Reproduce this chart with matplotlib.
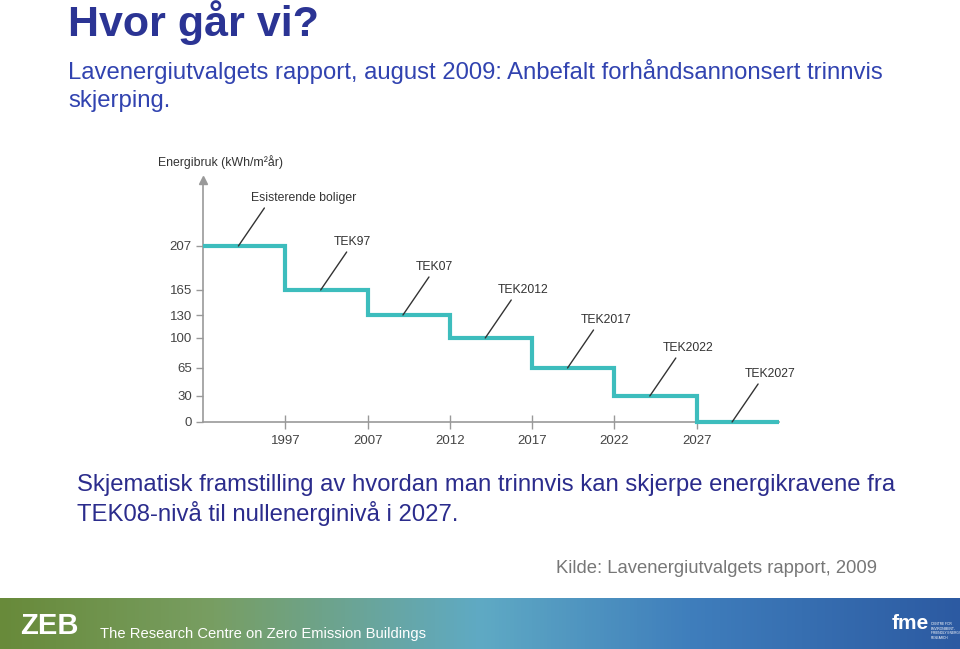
import matplotlib.pyplot as plt
import numpy as np
from matplotlib.colors import LinearSegmentedColormap

# Data
years = ['1997', '2007', '2012', '2017', '2022', '2027']
levels = [207, 165, 130, 100, 65, 30, 0]
step_labels = ['Esisterende boliger', 'TEK97', 'TEK07', 'TEK2012', 'TEK2017', 'TEK2022', 'TEK2027']
y_ticks = [0, 30, 65, 100, 130, 165, 207]

# the original chart uses a schematic (uneven) energy axis
y_knots = [0, 30, 65, 100, 130, 165, 207, 290]
y_spots = [0, 26, 54, 84, 107, 132, 176, 242]

def fwd(v):
    return np.interp(v, y_knots, y_spots)

def inv(v):
    return np.interp(v, y_spots, y_knots)

ARIAL = ['Liberation Sans', 'DejaVu Sans']
W, H = 960, 649

fig = plt.figure(figsize=(9.6, 6.49), dpi=100)

# ---- slide texts ----
fig.text(68 / W, 1 - 36 / H, 'Hvor går vi?', family=ARIAL, fontsize=31, fontweight='bold',
         color='#2B3494', va='baseline')
fig.text(68 / W, 1 - 79 / H, 'Lavenergiutvalgets rapport, august 2009: Anbefalt forhåndsannonsert trinnvis',
         family=ARIAL, fontsize=17.2, color='#3143B0', va='baseline')
fig.text(68 / W, 1 - 107 / H, 'skjerping.', family=ARIAL, fontsize=17.2, color='#3143B0', va='baseline')
fig.text(77 / W, 1 - 491 / H, 'Skjematisk framstilling av hvordan man trinnvis kan skjerpe energikravene fra',
         family=ARIAL, fontsize=17.2, color='#2B2C8C', va='baseline')
fig.text(77 / W, 1 - 521 / H, 'TEK08-nivå til nullenerginivå i 2027.', family=ARIAL, fontsize=17.2,
         color='#2B2C8C', va='baseline')
fig.text(877 / W, 1 - 573 / H, 'Kilde: Lavenergiutvalgets rapport, 2009', family=ARIAL, fontsize=13.3,
         color='#777777', ha='right', va='baseline')

# ---- chart ----
ax = fig.add_axes([203 / W, 1 - 422 / H, (779 - 203) / W, (422 - 180) / H])
ax.set_yscale('function', functions=(fwd, inv))
ax.set_ylim(0, 290)
ax.set_xlim(0, len(levels))

xs = np.arange(len(levels) + 1)
ax.stairs(levels, xs, color='#3DBDBD', lw=3, baseline=None, zorder=3, clip_on=False)

ax.set_xticks(np.arange(1, len(years) + 1))
ax.set_xticklabels(years, family=ARIAL, fontsize=9.5, color='#444444')
ax.set_yticks(y_ticks)
ax.set_yticklabels([str(t) for t in y_ticks], family=ARIAL, fontsize=9.5, color='#444444')
ax.tick_params(axis='x', direction='inout', length=10, width=1, color='#999999', pad=4)
ax.tick_params(axis='y', direction='out', length=5, width=1, color='#999999', pad=3)
for side in ['top', 'right']:
    ax.spines[side].set_visible(False)
for side in ['left', 'bottom']:
    ax.spines[side].set_color('#999999')
    ax.spines[side].set_linewidth(1.2)
ax.plot([0], [1], marker='^', color='#999999', markersize=6, transform=ax.transAxes, clip_on=False)
ax.patch.set_alpha(0)

for i, (lab, lev) in enumerate(zip(step_labels, levels)):
    ax.annotate('', xy=(i + 0.43, lev), xytext=(26, 38), textcoords='offset pixels',
                arrowprops=dict(arrowstyle='-', color='#333333', lw=1, shrinkA=0, shrinkB=0))
    ax.annotate(lab, xy=(i + 0.43, lev), xytext=(13, 42), textcoords='offset pixels',
                ha='left', va='bottom', family=ARIAL, fontsize=8.8, color='#333333')

fig.text(158 / W, 1 - 162 / H, 'Energibruk (kWh/m²år)', family=ARIAL, fontsize=8.8,
         color='#333333', va='center')

# ---- footer band ----
band = fig.add_axes([0, 0, 1, 51 / H])
cmap = LinearSegmentedColormap.from_list('zeb', [
    (0.0, '#688A3A'), (0.22, '#789E62'), (0.5, '#5FAAC4'), (0.72, '#3F7EBC'), (1.0, '#2C5AA2')])
band.imshow(np.linspace(0, 1, 256)[None, :], aspect='auto', cmap=cmap, extent=[0, 1, 0, 1])
band.set_axis_off()
band.text(20 / W, 0.45, 'ZEB', transform=band.transAxes, family=ARIAL, fontsize=21,
          fontweight='bold', color='white', va='center')
band.text(100 / W, 0.3, 'The Research Centre on Zero Emission Buildings', transform=band.transAxes,
          family=ARIAL, fontsize=10.6, color='white', va='center')
band.text(892 / W, 0.5, 'fme', transform=band.transAxes, family=ARIAL, fontsize=15,
          fontweight='bold', color='white', va='center')
band.text(931 / W, 0.35, 'CENTRE FOR\nENVIRONMENT-\nFRIENDLY ENERGY\nRESEARCH', transform=band.transAxes,
          family=ARIAL, fontsize=2.3, color='white', va='center', linespacing=1.2)

fig.savefig('out.png', dpi=100)
